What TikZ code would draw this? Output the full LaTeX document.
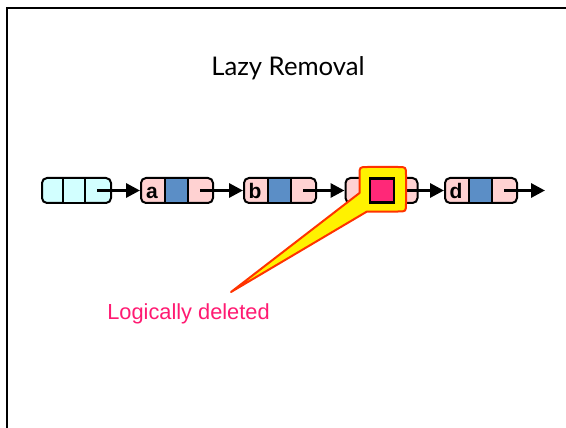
\documentclass[tikz,border=0pt]{standalone}
\usepackage{fontspec}
\setmainfont{Liberation Sans}
\newfontfamily\titlefont{Lato}
\usetikzlibrary{arrows.meta}
\definecolor{cellpink}{HTML}{FFD2D2}
\definecolor{cellcyan}{HTML}{D2FFFF}
\definecolor{cellblue}{HTML}{5B8EC6}
\definecolor{delmag}{HTML}{FF2878}
\definecolor{txtmag}{HTML}{FF1A72}
\definecolor{calred}{HTML}{FF3300}
\begin{document}
\begin{tikzpicture}[x=1pt,y=-1pt,
  listnode/.style={draw=black,line width=2pt,rounded corners=5pt,minimum width=72pt,minimum height=25pt,inner sep=0pt,anchor=west,fill=cellpink},
  midcell/.style={draw=black,line width=2pt,minimum width=23pt,minimum height=25pt,inner sep=0pt,anchor=west,fill=cellblue},
  keytext/.style={font=\fontsize{21}{21}\selectfont\bfseries,inner sep=0pt,anchor=base},
  link/.style={line width=3.2pt,-{Triangle[length=14pt,width=14pt]}},
  callout/.style={fill=yellow,draw=calred,line width=2pt,line join=round}
]
\useasboundingbox (0,0) rectangle (566,428);
\clip (0,0) rectangle (566,428);
\fill[white] (0,0) rectangle (566,428);
\draw[line width=2.2pt] (7,440) -- (7,8) -- (580,8);

\node[font=\titlefont\fontsize{25.7}{26}\selectfont] (title) at (288,68) {Lazy Removal};

% head
\node[listnode,fill=cellcyan,minimum width=69pt] (h) at (41,190.5) {};
\node[midcell,fill=cellcyan,minimum width=22pt] (hm) at (62,190.5) {};
% a
\node[listnode] (a) at (140,190.5) {};
\node[midcell] (am) at (164,190.5) {};
\node[keytext] (ak) at (152,198.5) {a};
% b
\node[listnode] (b) at (243,190.5) {};
\node[midcell] (bm) at (267,190.5) {};
\node[keytext] (bk) at (255,198.5) {b};
% c
\node[listnode] (c) at (344.5,190.5) {};
% d
\node[listnode] (d) at (444,190.5) {};
\node[midcell] (dm) at (468,190.5) {};
\node[keytext] (dk) at (456,198.5) {d};
\coordinate (end) at (545,190.5);

\coordinate (hs) at (97,190.5);
\coordinate (as) at (200,190.5);
\coordinate (bs) at (303,190.5);
\coordinate (cs) at (405,190.5);
\coordinate (ds) at (504,190.5);
\draw[link] (hs) -- (a.west);
\draw[link] (as) -- (b.west);
\draw[link] (bs) -- (c.west);
\draw[link] (cs) -- (d.west);
\draw[link] (ds) -- (end);

% callout
\coordinate (tip) at (231,292);
\draw[callout] (tip) -- (359.5,193) -- (359.5,175) .. controls (359.5,167) .. (367.5,167)
  -- (398,167) .. controls (406,167) .. (406,175)
  -- (406,203.5) .. controls (406,211.5) .. (398,211.5)
  -- (367,211.5) -- cycle;

\node[midcell,fill=delmag,line width=2.6pt,minimum width=24pt,minimum height=24.5pt] (cm) at (368.5,190.5) {};

\node[text=txtmag,font=\fontsize{21.8}{22}\selectfont] (lbl) at (188.5,314) {Logically deleted};
\end{tikzpicture}
\end{document}
